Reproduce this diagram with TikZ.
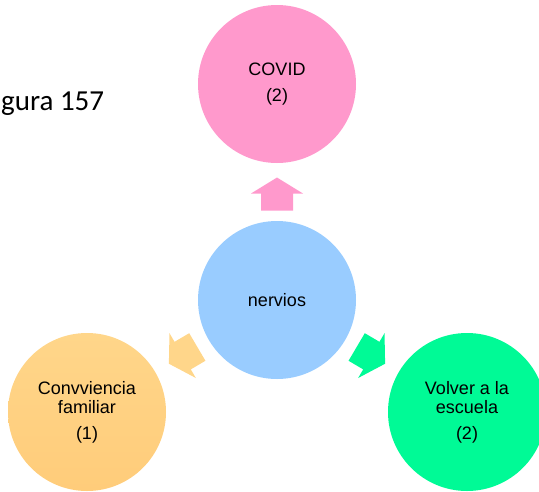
\documentclass[tikz,border=0pt]{standalone}
\usepackage{fontspec}
\setmainfont{Liberation Sans}
\newfontfamily\captionfont{Carlito}
\usetikzlibrary{calc}

\definecolor{covidpink}{RGB}{255,153,204}
\definecolor{nervblue}{RGB}{153,204,255}
\definecolor{famorange}{RGB}{255,214,138}
\definecolor{famorangedk}{RGB}{255,204,122}
\definecolor{schoolgreen}{RGB}{0,250,150}

\tikzset{
  bubble/.style={circle, minimum size=158pt, inner sep=0pt, align=center,
    font=\fontsize{18}{19}\selectfont},
}

%% block arrow: #1 centre coordinate, #2 angle, #3 colour
\newcommand\blockarrow[3]{%
  \fill[#3, shift={(#1)}, rotate=#2]
    (-16.5,-16) -- (0.5,-16) -- (0.5,-26) -- (16.5,0)
    -- (0.5,26) -- (0.5,16) -- (-16.5,16) -- cycle;}

\begin{document}
\begin{tikzpicture}[x=1pt, y=-1pt]
  \clip (0,0) rectangle (539,491);

  %% Caption fragment, cut at the left edge
  \node[anchor=base west, inner sep=0pt, font=\captionfont\fontsize{29}{31}\selectfont]
    (caption) at (1,110) {gura 157};

  %% Circles
  \node[bubble, fill=nervblue] (nerv) at (277,300) {\raisebox{-4pt}{nervios}};
  \node[bubble, fill=covidpink] (covid) at (277,84) {COVID\\[7pt](2)};
  \node[bubble, top color=famorange, bottom color=famorangedk] (fam) at (87,412)
    {Convviencia\\familiar\\[7pt](1)};
  \node[bubble, fill=schoolgreen] (school) at (467,412)
    {Volver a la\\escuela\\[7pt](2)};

  %% Block arrows between the centre and each circle
  \coordinate (upmid) at ($(nerv)!106pt!(covid)$);
  \coordinate (leftmid) at ($(nerv)!109pt!(fam)$);
  \coordinate (rightmid) at ($(nerv)!109pt!(school)$);
  \blockarrow{upmid}{90}{covidpink}
  \blockarrow{leftmid}{210.5}{famorange}
  \blockarrow{rightmid}{-30.5}{schoolgreen}
\end{tikzpicture}
\end{document}
